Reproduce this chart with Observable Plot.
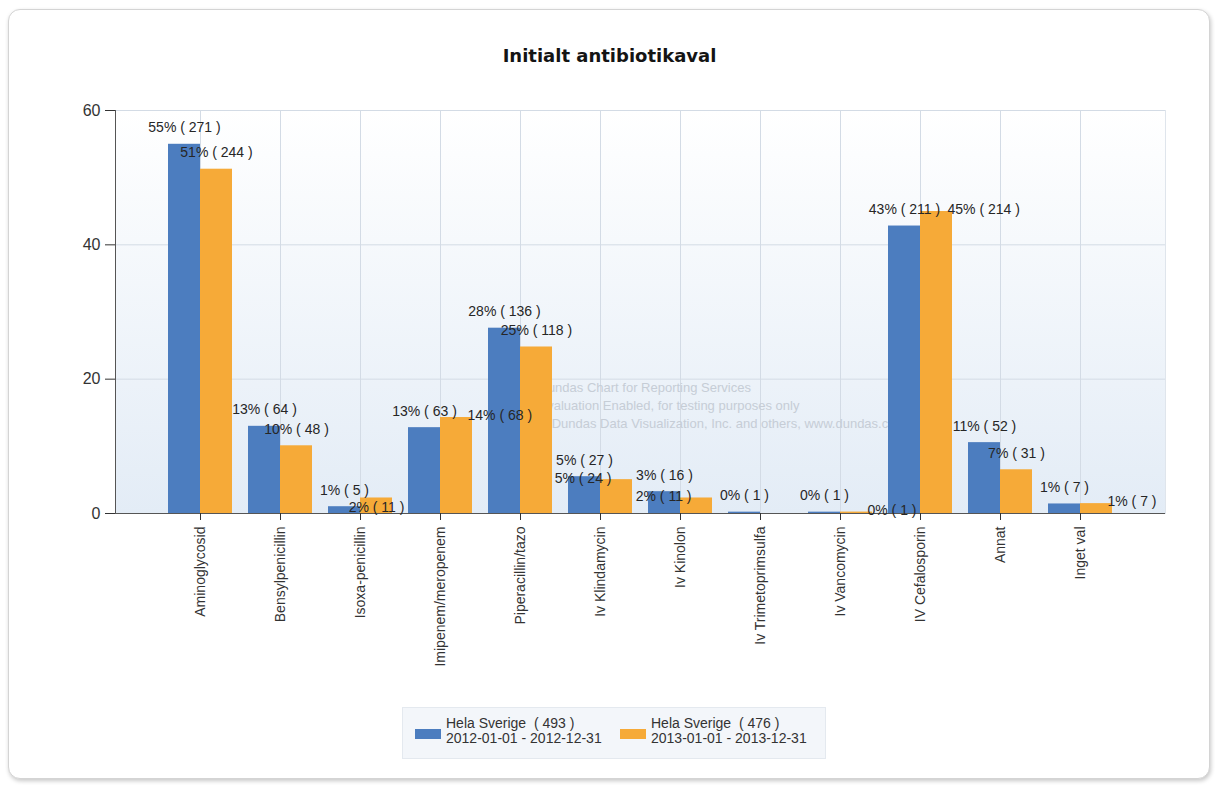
<!DOCTYPE html>
<html>
<head>
<meta charset="utf-8">
<script src="https://cdn.jsdelivr.net/npm/d3@7"></script>
<script src="https://cdn.jsdelivr.net/npm/@observablehq/plot@0.6"></script>
<style>
html, body { margin: 0; padding: 0; background: #ffffff; }
#page { position: relative; width: 1219px; height: 787px; overflow: hidden; font-family: "Liberation Sans", Arial, sans-serif; }
#card { position: absolute; left: 8px; top: 9px; width: 1200px; height: 768px; border: 1px solid #d4d4d4; border-radius: 12px; box-shadow: 1px 2px 4px rgba(0,0,0,0.22); background: #fff; }
#title { position: absolute; left: 0; top: 45px; width: 1219px; text-align: center; font: bold 18px "DejaVu Sans", Verdana, sans-serif; color: #141414; }
#chart { position: absolute; left: 0; top: 80px; }
#legend { position: absolute; left: 402px; top: 707px; width: 424px; height: 52px; background: #f3f6fa; border: 1px solid #e4e9ef; box-sizing: border-box; }
.item { position: absolute; top: 8px; font-size: 14px; line-height: 15px; color: #333; white-space: pre; }
.sw { position: absolute; width: 26px; height: 10px; }
</style>
</head>
<body>
<div id="page">
  <div id="card"></div>
  <div id="title"></div>
  <div id="chart"></div>
  <div id="legend"></div>
</div>
<script>
// ---------- data ----------
const chartTitle = "Initialt antibiotikaval";
const categories = ["Aminoglycosid", "Bensylpenicillin", "Isoxa-penicillin", "Imipenem/meropenem",
  "Piperacillin/tazo", "Iv Klindamycin", "Iv Kinolon", "Iv Trimetoprimsulfa", "Iv Vancomycin",
  "IV Cefalosporin", "Annat", "Inget val"];
const seriesRegion = ["Hela Sverige", "Hela Sverige"];
const seriesTotals = [493, 476];
const seriesPeriods = ["2012-01-01 - 2012-12-31", "2013-01-01 - 2013-12-31"];
const pct2012 = [54.97, 12.98, 1.01, 12.78, 27.59, 5.48, 3.25, 0.20, 0.20, 42.80, 10.55, 1.42];
const count2012 = [271, 64, 5, 63, 136, 27, 16, 1, 1, 211, 52, 7];
const pct2013 = [51.26, 10.08, 2.31, 14.29, 24.79, 5.04, 2.31, null, 0.21, 44.96, 6.51, 1.47];
const count2013 = [244, 48, 11, 68, 118, 24, 11, null, 1, 214, 31, 7];
const yTicks = [0, 20, 40, 60];
const watermark = ["Dundas Chart for Reporting Services",
  "Evaluation Enabled, for testing purposes only",
  "© Dundas Data Visualization, Inc. and others, www.dundas.com"];

const colors = ["#4c7dbf", "#f6aa38"];

// ---------- layout ----------
const W = 1219, H = 620;
const M = {marginLeft: 115, marginRight: 54, marginTop: 30, marginBottom: 187};
const xScale = {type: "band", domain: categories, paddingInner: 0, paddingOuter: 0.5, align: 0.5};
const yScale = {domain: [0, 60]};
const FONT = 14;
const LH = 16;

function rowsFor(pcts, counts) {
  return categories.map((cat, i) => ({cat, pct: pcts[i], n: counts[i]}))
    .filter(d => d.pct != null)
    .map(d => ({...d, label: `${Math.round(d.pct)}% ( ${d.n} )`}));
}
const rows = [rowsFor(pct2012, count2012), rowsFor(pct2013, count2013)];

// probe plot to read the scales
const probe = Plot.plot({width: W, height: H, ...M, x: {...xScale, axis: null}, y: {...yScale, axis: null},
  marks: [Plot.barY(rows[0], {x: "cat", y: "pct"})]});
const xs = probe.scale("x"), ys = probe.scale("y");
const bw = xs.bandwidth;
const plotBottom = ys.apply(0), plotRight = W - M.marginRight;
const offs = [-0.2 * bw, 0.2 * bw]; // bar centre offset from band centre

// text measurement
const ctx = document.createElement("canvas").getContext("2d");
ctx.font = `${FONT}px "Liberation Sans", Arial, sans-serif`;
const tw = s => ctx.measureText(s).width;

const PLACE = {
  top:    {dx: 0,   dy: -16.5, anchor: "middle"},
  bottom: {dx: 0,   dy: 10,    anchor: "middle"},
  right:  {dx: 11,  dy: -2,    anchor: "start"},
  left:   {dx: -5,  dy: -1,    anchor: "end"}
};
function box(d, s, place) {
  const p = PLACE[place];
  const cx = xs.apply(d.cat) + bw / 2 + offs[s] + p.dx;
  const cy = ys.apply(d.pct) + p.dy;
  const w = tw(d.label);
  const x0 = p.anchor === "middle" ? cx - w / 2 : p.anchor === "start" ? cx : cx - w;
  return {x0, x1: x0 + w, y0: cy - LH / 2, y1: cy + LH / 2};
}
const hit = (a, b) => a.x0 < b.x1 && b.x0 < a.x1 && a.y0 < b.y1 && b.y0 < a.y1;
const placed = [];
rows[0].forEach(d => { d.place = "top"; placed.push(box(d, 0, "top")); });
rows[1].forEach(d => {
  const sib = rows[0].find(r => r.cat === d.cat);
  let chosen = null;
  for (const place of ["top", "bottom", "right", "left"]) {
    const b = box(d, 1, place);
    if (placed.some(o => hit(b, o))) continue;
    if (b.x1 > plotRight + 4) continue;
    if (place === "bottom") {
      if (b.y1 > plotBottom + 4) continue;
      if (sib) {
        const mx = xs.apply(sib.cat) + bw / 2 + offs[0], my = ys.apply(sib.pct);
        if (hit(b, {x0: mx - 2, x1: mx + 2, y0: my - 2, y1: my + 2})) continue;
      }
    }
    chosen = place; break;
  }
  d.place = chosen || "right";
  placed.push(box(d, 1, d.place));
});

function labelMarks(data, s) {
  return Object.entries(PLACE).map(([place, p]) =>
    Plot.text(data.filter(d => d.place === place), {
      x: "cat", y: "pct", text: "label",
      dx: offs[s] + p.dx, dy: p.dy, textAnchor: p.anchor, lineAnchor: "middle",
      fontSize: FONT, fill: "#262626"
    }));
}

function gradientDefs() {
  const ns = "http://www.w3.org/2000/svg";
  const defs = document.createElementNS(ns, "defs");
  const g = document.createElementNS(ns, "linearGradient");
  g.setAttribute("id", "plotBg");
  g.setAttribute("x1", "0"); g.setAttribute("y1", "0"); g.setAttribute("x2", "0"); g.setAttribute("y2", "1");
  [["0%", "#ffffff"], ["100%", "#e3ecf6"]].forEach(([o, c]) => {
    const st = document.createElementNS(ns, "stop");
    st.setAttribute("offset", o); st.setAttribute("stop-color", c);
    g.appendChild(st);
  });
  defs.appendChild(g);
  return defs;
}

const chart = Plot.plot({
  width: W, height: H, ...M,
  style: {fontFamily: '"Liberation Sans", Arial, sans-serif', background: "transparent", overflow: "visible"},
  x: {...xScale, axis: null},
  y: {...yScale, axis: null},
  marks: [
    gradientDefs,
    Plot.frame({fill: "url(#plotBg)", stroke: "#dfe5ec"}),
    Plot.gridX(categories, {stroke: "#d3dbe5", strokeOpacity: 1}),
    Plot.gridY(yTicks.slice(1), {stroke: "#d3dbe5", strokeOpacity: 1}),
    Plot.text([watermark.join("\n")], {frameAnchor: "left", dx: 423, dy: 92, textAnchor: "start",
      lineAnchor: "middle", lineHeight: 1.4, fontSize: 13, fill: "#c6cdd6"}),
    Plot.barY(rows[0], {x: "cat", y: "pct", fill: colors[0], insetLeft: 0.1 * bw, insetRight: 0.5 * bw}),
    Plot.barY(rows[1], {x: "cat", y: "pct", fill: colors[1], insetLeft: 0.5 * bw, insetRight: 0.1 * bw}),
    Plot.frame({anchor: "left", stroke: "#555"}),
    Plot.ruleY([0], {stroke: "#555"}),
    Plot.axisY(yTicks, {tickSize: 10, tickPadding: 5, fontSize: 16, color: "#333", label: null}),
    Plot.axisX({tickSize: 7, tickPadding: 6, tickRotate: -90, fontSize: 14, color: "#333", label: null}),
    ...labelMarks(rows[0], 0),
    ...labelMarks(rows[1], 1)
  ]
});
document.getElementById("chart").appendChild(chart);
document.getElementById("title").textContent = chartTitle;

// legend
const legend = document.getElementById("legend");
const legendX = [12, 217];
seriesRegion.forEach((r, i) => {
  const sw = document.createElement("div");
  sw.className = "sw";
  sw.style.left = legendX[i] + "px"; sw.style.top = "21px"; sw.style.background = colors[i];
  legend.appendChild(sw);
  const t = document.createElement("div");
  t.className = "item";
  t.style.left = (legendX[i] + 31) + "px";
  t.textContent = `${r}  ( ${seriesTotals[i]} )\n${seriesPeriods[i]}`;
  legend.appendChild(t);
});
</script>
</body>
</html>
